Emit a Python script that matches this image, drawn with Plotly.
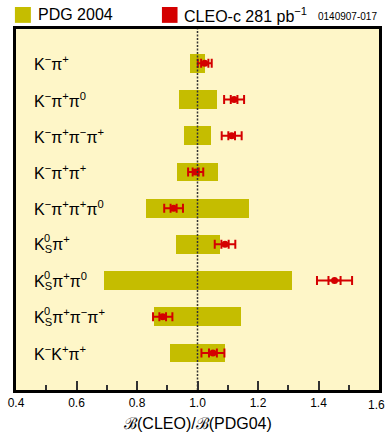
import plotly.graph_objects as go

# ---- data ----
modes = [
    "K<sup>−</sup>π<sup>+</sup>",
    "K<sup>−</sup>π<sup>+</sup>π<sup>0</sup>",
    "K<sup>−</sup>π<sup>+</sup>π<sup>−</sup>π<sup>+</sup>",
    "K<sup>−</sup>π<sup>+</sup>π<sup>+</sup>",
    "K<sup>−</sup>π<sup>+</sup>π<sup>+</sup>π<sup>0</sup>",
    "K<sub>S</sub>π<sup>+</sup>",
    "K<sub>S</sub>π<sup>+</sup>π<sup>0</sup>",
    "K<sub>S</sub>π<sup>+</sup>π<sup>−</sup>π<sup>+</sup>",
    "K<sup>−</sup>K<sup>+</sup>π<sup>+</sup>",
]
is_ks = [False, False, False, False, False, True, True, True, False]
pdg_lo = [0.975, 0.938, 0.957, 0.933, 0.829, 0.928, 0.690, 0.856, 0.908]
pdg_hi = [1.024, 1.064, 1.044, 1.067, 1.171, 1.073, 1.311, 1.143, 1.091]
cleo_val = [1.024, 1.121, 1.113, 0.994, 0.921, 1.091, 1.453, 0.885, 1.051]
cleo_stat = [0.012, 0.011, 0.011, 0.010, 0.010, 0.012, 0.020, 0.011, 0.013]
cleo_tot = [0.023, 0.033, 0.033, 0.025, 0.031, 0.034, 0.058, 0.032, 0.038]
x_ticks = [0.4, 0.6, 0.8, 1.0, 1.2, 1.4, 1.6]
x_minor = [0.5, 0.7, 0.9, 1.1, 1.3, 1.5]

rows = list(range(len(modes)))
OLIVE = "#c5bd00"
RED = "#d40000"
BG = "#fef6c8"
FONT = "Liberation Sans, Arial, sans-serif"

fig = go.Figure()

fig.add_trace(go.Bar(
    y=rows,
    x=[h - l for l, h in zip(pdg_lo, pdg_hi)],
    base=pdg_lo,
    orientation="h",
    width=0.517,
    marker=dict(color=OLIVE, line=dict(width=0)),
    showlegend=False,
    hoverinfo="skip",
))

# total errors (outer caps)
fig.add_trace(go.Scatter(
    x=cleo_val, y=rows, mode="markers",
    marker=dict(size=1, color=RED, opacity=0),
    error_x=dict(type="data", array=cleo_tot, color=RED, thickness=2, width=4.5),
    showlegend=False, hoverinfo="skip",
))
# statistical errors (inner caps) + central values
fig.add_trace(go.Scatter(
    x=cleo_val, y=rows, mode="markers",
    marker=dict(size=7, color=RED, symbol="circle", line=dict(width=0)),
    error_x=dict(type="data", array=cleo_stat, color=RED, thickness=2, width=4.5),
    showlegend=False, hoverinfo="skip",
))

fig.add_shape(type="line", xref="x", yref="paper", x0=1.0, x1=1.0, y0=0, y1=1,
              line=dict(color="#333333", width=1.5, dash="2px,1.5px"), layer="above")

annotations = []
for r, (m, ks) in enumerate(zip(modes, is_ks)):
    annotations.append(dict(
        x=0.043, xref="paper", y=r, yref="y", text=m, showarrow=False,
        xanchor="left", yanchor="middle", font=dict(size=16, color="black", family=FONT),
    ))
    if ks:
        annotations.append(dict(
            x=0.043, xref="paper", y=r, yref="y", text="0", showarrow=False,
            xanchor="left", yanchor="middle", xshift=10, yshift=6,
            font=dict(size=11, color="black", family=FONT),
        ))

# last tick label, nudged left so that it stays inside the page
tick_text = [f"{v:.1f}" for v in x_ticks]
annotations.append(dict(
    x=x_ticks[-1], xref="x", y=0, yref="paper", text=tick_text[-1], showarrow=False,
    xanchor="center", yanchor="top", xshift=-3, yshift=-6,
    font=dict(size=12, color="black", family=FONT),
))
tick_text_axis = tick_text[:-1] + [""]

# legend / header
fig.add_shape(type="rect", xref="paper", yref="paper", x0=-0.003, x1=0.041, y0=1.017, y1=1.061,
              fillcolor=OLIVE, line=dict(width=0))
fig.add_shape(type="rect", xref="paper", yref="paper", x0=0.402, x1=0.445, y0=1.017, y1=1.061,
              fillcolor=RED, line=dict(width=0))
annotations += [
    dict(x=0.055, xref="paper", y=1.039, yref="paper", text="PDG 2004", showarrow=False,
         xanchor="left", yanchor="middle", font=dict(size=16, color="black", family=FONT)),
    dict(x=0.457, xref="paper", y=1.039, yref="paper", text="CLEO-c 281 pb<sup>−1</sup>",
         showarrow=False, xanchor="left", yanchor="middle",
         font=dict(size=16, color="black", family=FONT)),
    dict(x=1.0, xref="paper", y=1.036, yref="paper", text="0140907-017", showarrow=False,
         xanchor="right", yanchor="middle", font=dict(size=10, color="black", family=FONT)),
    dict(x=0.5, xref="paper", y=-0.092, yref="paper", text="ℬ(CLEO)/ℬ(PDG04)", showarrow=False,
         xanchor="center", yanchor="middle", font=dict(size=16, color="black", family=FONT)),
]

fig.update_layout(
    width=385, height=433,
    margin=dict(l=16, r=6, t=29, b=43, pad=0, autoexpand=False),
    paper_bgcolor="white",
    plot_bgcolor=BG,
    font=dict(family=FONT, color="black"),
    annotations=annotations,
    bargap=0,
)
fig.update_xaxes(
    range=[0.4, 1.6], tickvals=x_ticks, ticktext=tick_text_axis,
    ticks="inside", ticklen=9, tickwidth=1.5, tickcolor="#333333",
    minor=dict(ticks="inside", ticklen=5, tickwidth=1.5, tickcolor="#333333",
               tickvals=x_minor),
    tickfont=dict(size=12, family=FONT, color="black"),
    showline=True, linecolor="black", linewidth=3, mirror=True,
    showgrid=False, zeroline=False, fixedrange=True, automargin=False,
)
fig.update_yaxes(
    range=[9.022, -0.948], showticklabels=False, ticks="",
    showline=True, linecolor="black", linewidth=3, mirror=True,
    showgrid=False, zeroline=False, fixedrange=True, automargin=False,
)

fig.write_html("out.html")
